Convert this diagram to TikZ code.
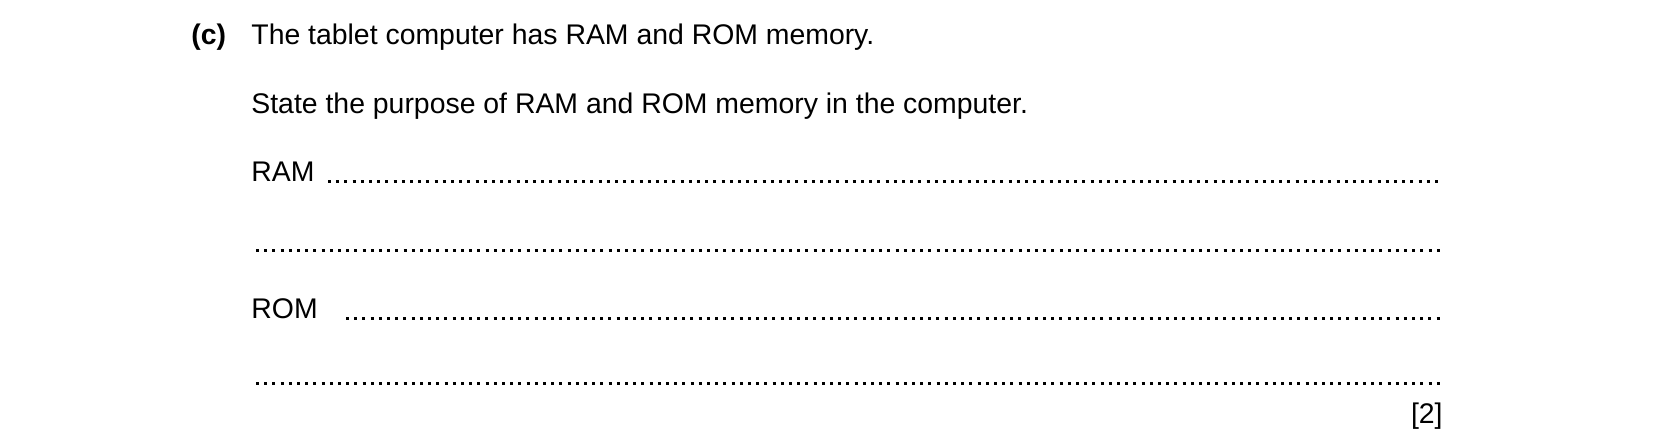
\documentclass[tikz,border=0pt]{standalone}
\usepackage{fontspec}
\setmainfont{Liberation Sans}
\begin{document}
\begin{tikzpicture}[x=0.5pt,y=-0.5pt,
  txt/.style={anchor=base west,inner sep=0pt,font=\fontsize{14.2}{17}\selectfont},
  dots/.style={line width=1.5pt,line cap=butt,dash pattern=on 1.5pt off 2.6pt}]
\useasboundingbox (0,0) rectangle (1654,447);
\node[txt,font=\fontsize{14.2}{17}\selectfont\bfseries] (c) at (191,44) {(c)};
\node[txt] (q1) at (251,44) {The tablet computer has RAM and ROM memory.};
\node[txt] (q2) at (251,113) {State the purpose of RAM and ROM memory in the computer.};
\node[txt] (ram) at (251,181) {RAM};
\node[txt] (rom) at (251,318) {ROM};
\node[txt,anchor=base east] (mk) at (1443,423) {[2]};
\draw[dots] (328,181) -- (1441,181);
\draw[dots] (256,250) -- (1441,250);
\draw[dots] (346,318) -- (1441,318);
\draw[dots] (256,383) -- (1441,383);
\end{tikzpicture}
\end{document}
